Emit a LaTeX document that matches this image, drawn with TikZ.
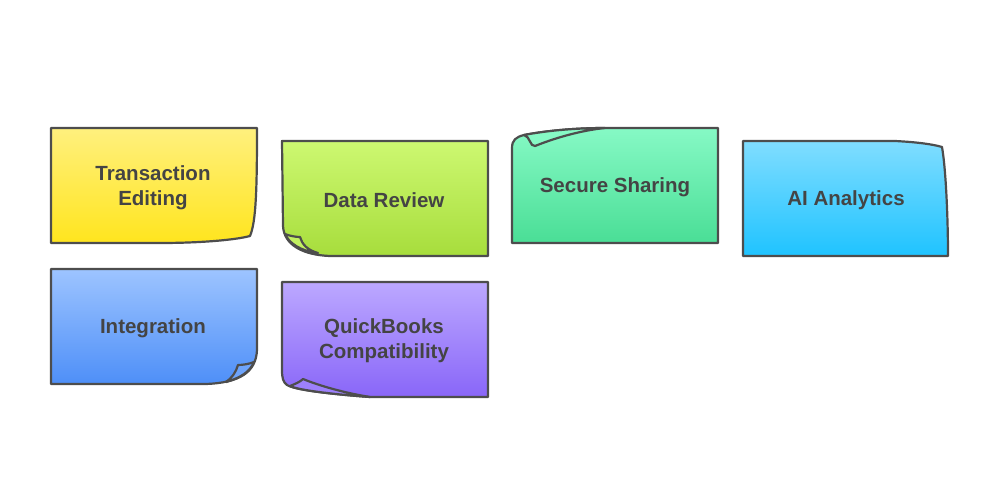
\documentclass[tikz,border=0pt]{standalone}
\usepackage{fontspec}
\setmainfont{Liberation Sans}
\definecolor{edge}{HTML}{4D4D4D}
\definecolor{txt}{HTML}{444444}
\definecolor{yT}{HTML}{FFF07E}\definecolor{yB}{HTML}{FFE51E}
\definecolor{gT}{HTML}{CDF871}\definecolor{gB}{HTML}{A7DD3C}
\definecolor{mT}{HTML}{86F9C5}\definecolor{mB}{HTML}{4ADE96}
\definecolor{cT}{HTML}{80DDFF}\definecolor{cB}{HTML}{1FC3FF}
\definecolor{bT}{HTML}{9DC4FF}\definecolor{bB}{HTML}{4E8FF8}
\definecolor{pT}{HTML}{BCA8FF}\definecolor{pB}{HTML}{8966F8}
\tikzset{
  note/.style={draw=edge, line width=2.2pt, line join=round},
  flap/.style={draw=edge, line width=2.2pt, line join=round, line cap=round},
  label/.style={text=txt, font=\fontsize{20.5}{25.5}\selectfont\bfseries, align=center, inner sep=0pt}
}
\begin{document}
\begin{tikzpicture}[x=1pt,y=-1pt]
\useasboundingbox (0,0) rectangle (1000,487);
% 1 Transaction Editing
\path[note, top color=yT, bottom color=yB] (51,128) -- (257,128)
  .. controls (257,190) and (256,222) .. (250,236)
  .. controls (235,240) and (200,243) .. (160,243) -- (51,243) -- cycle;
\node[label] (t1) at (153,187.5) {Transaction\\Editing};
% 2 Data Review
\path[note, top color=gT, bottom color=gB] (282,141) -- (488,141) -- (488,256) -- (330,256)
  .. controls (303,255) and (284,245) .. (283,226) -- cycle;
\path[flap, fill=gT!70!gB] (285,234) .. controls (290,236) and (296,237) .. (300,237)
  .. controls (302,244) and (307,250) .. (318,253)
  .. controls (300,251) and (289,243) .. (285,234) -- cycle;
\node[label] (t2) at (384,200.5) {Data Review};
% 3 Secure Sharing
\path[note, top color=mT, bottom color=mB] (718,128) -- (718,243) -- (512,243) -- (512,148)
  .. controls (512,140) and (516,137) .. (524,135)
  .. controls (550,130) and (580,128) .. (605,128) -- cycle;
\path[flap, fill=mT] (524,135) .. controls (530,136) and (530,147) .. (535,146)
  .. controls (560,136) and (585,130) .. (605,128)
  .. controls (580,128) and (550,130) .. (524,135) -- cycle;
\node[label] (t3) at (615,187.5) {Secure Sharing};
% 4 AI Analytics
\path[note, top color=cT, bottom color=cB] (743,141) -- (895,141)
  .. controls (915,142) and (932,144) .. (942,147)
  .. controls (946,170) and (948,220) .. (948,256) -- (743,256) -- cycle;
\node[label] (t4) at (846,200.5) {AI Analytics};
% 5 Integration
\path[note, top color=bT, bottom color=bB] (51,269) -- (257,269) -- (257,350)
  .. controls (256,372) and (240,383) .. (205,384) -- (51,384) -- cycle;
\path[flap, fill=bT!40!bB] (254,362) .. controls (249,364) and (243,365) .. (238,365)
  .. controls (236,372) and (232,378) .. (226,382)
  .. controls (240,378) and (250,372) .. (254,362) -- cycle;
\node[label] (t5) at (153,328.5) {Integration};
% 6 QuickBooks Compatibility
\path[note, top color=pT, bottom color=pB] (282,282) -- (488,282) -- (488,397) -- (370,397)
  .. controls (330,394) and (295,390) .. (287,385)
  .. controls (283,382) and (282,378) .. (282,370) -- cycle;
\path[flap, fill=pT!40!pB] (290,386) .. controls (295,384) and (300,382) .. (303,379)
  .. controls (320,386) and (345,393) .. (370,397)
  .. controls (330,394) and (298,390) .. (290,386) -- cycle;
\node[label] (t6) at (384,340.5) {QuickBooks\\Compatibility};
\end{tikzpicture}
\end{document}
